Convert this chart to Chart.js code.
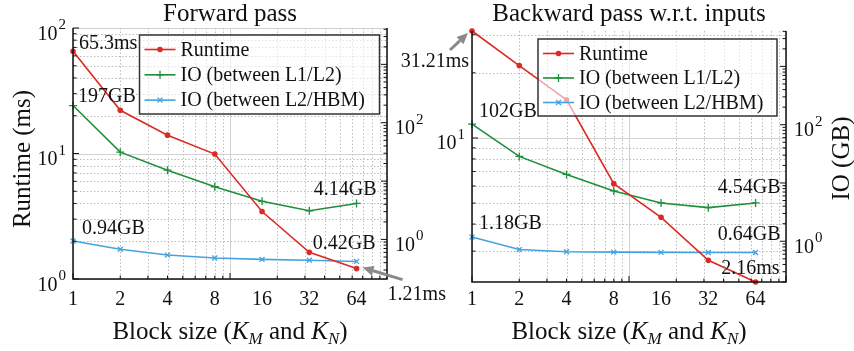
<!DOCTYPE html>
<html lang="en">
<head>
<meta charset="UTF-8">
<title>Block size vs runtime and IO</title>
<script src="https://cdn.jsdelivr.net/npm/chart.js"></script>
<style>
  body { margin: 0; background: #fff; }
  #wrap { position: relative; width: 854px; height: 351px; }
  canvas { position: absolute; top: 0; }
  #fwdChart { left: 0; }
  #bwdChart { left: 400px; }
</style>
</head>
<body>
<div id="wrap">
  <canvas id="fwdChart" width="454" height="351"></canvas>
  <canvas id="bwdChart" width="454" height="351"></canvas>
</div>
<script>
// data
const blockSizes = [1, 2, 4, 8, 16, 32, 64];
const seriesNames = ['Runtime', 'IO (between L1/L2)', 'IO (between L2/HBM)'];

const fwdRuntime = [65.3, 22.1, 14.0, 9.9, 3.45, 1.63, 1.21];      // ms
const fwdIoL1L2 = [197, 31.3, 15.4, 8.0, 4.5, 3.1, 4.14];           // GB
const fwdIoL2Hbm = [0.94, 0.68, 0.54, 0.48, 0.455, 0.44, 0.42];     // GB

const bwdRuntime = [31.21, 21.6, 15.0, 6.15, 4.3, 2.72, 2.16];
const bwdIoL1L2 = [102, 28.6, 14.0, 7.3, 4.54, 3.77, 4.54];
const bwdIoL2Hbm = [1.18, 0.72, 0.66, 0.65, 0.645, 0.64, 0.64];

const SERIF = '"Liberation Serif", "Times New Roman", serif';
const RED = '#dc2a23', GREEN = '#1f8e3d', BLUE = '#44a3df';
Chart.defaults.font.family = SERIF;

function logTicks(min, max) {
    const out = [];
    for (let d = Math.floor(Math.log10(min)); d <= Math.ceil(Math.log10(max)); d++) {
        for (let m = 1; m <= 9; m++) {
            const v = m * Math.pow(10, d);
            if (v >= min * 0.9999 && v <= max * 1.0001) out.push({ v, m, d });
        }
    }
    return out;
}

function drawMarker(ctx, style, x, y, r, color) {
    ctx.fillStyle = color; ctx.strokeStyle = color; ctx.lineWidth = 1.3;
    ctx.beginPath();
    if (style === 'circle') {
        ctx.arc(x, y, r, 0, Math.PI * 2); ctx.fill();
        return;
    }
    if (style === 'cross') {
        ctx.moveTo(x - r, y); ctx.lineTo(x + r, y);
        ctx.moveTo(x, y - r); ctx.lineTo(x, y + r);
    } else {
        const k = r * 0.7071;
        ctx.moveTo(x - k, y - k); ctx.lineTo(x + k, y + k);
        ctx.moveTo(x - k, y + k); ctx.lineTo(x + k, y - k);
    }
    ctx.stroke();
}

// "10" with a raised exponent; y is the tick pixel
function drawPow(ctx, exp, x, y, align) {
    ctx.font = `20px ${SERIF}`;
    const baseW = ctx.measureText('10').width;
    ctx.font = `15px ${SERIF}`;
    const expW = ctx.measureText(String(exp)).width;
    const left = align === 'right' ? x - (baseW + 1 + expW) : x;
    ctx.fillStyle = '#111';
    ctx.textAlign = 'left';
    ctx.textBaseline = 'alphabetic';
    ctx.font = `20px ${SERIF}`;
    ctx.fillText('10', left, y + 11.5);
    ctx.font = `15px ${SERIF}`;
    ctx.fillText(String(exp), left + baseW + 1, y + 1);
}

function drawArrow(ctx, x1, y1, x2, y2) {
    const ang = Math.atan2(y2 - y1, x2 - x1);
    const hl = 11, hw = 5;
    const bx = x2 - hl * Math.cos(ang), by = y2 - hl * Math.sin(ang);
    ctx.strokeStyle = '#8a8a8a'; ctx.fillStyle = '#8a8a8a';
    ctx.lineWidth = 3;
    ctx.beginPath(); ctx.moveTo(x1, y1); ctx.lineTo(bx, by); ctx.stroke();
    ctx.beginPath();
    ctx.moveTo(x2, y2);
    ctx.lineTo(bx + hw * Math.sin(ang), by - hw * Math.cos(ang));
    ctx.lineTo(bx - hw * Math.sin(ang), by + hw * Math.cos(ang));
    ctx.closePath(); ctx.fill();
}

const decorPlugin = {
    id: 'decor',
    beforeDatasetsDraw(chart, args, o) {
        const { ctx, chartArea: a } = chart;
        const sx = chart.scales.x, sy = chart.scales.y;
        ctx.save();
        ctx.lineWidth = 1;
        logTicks(sx.min, sx.max).forEach(t => {
            const p = Math.round(sx.getPixelForValue(t.v)) + 0.5;
            ctx.strokeStyle = t.m === 1 ? '#d2d2d2' : '#bdbdbd';
            ctx.setLineDash(t.m === 1 ? [] : [1.5, 2]);
            ctx.beginPath(); ctx.moveTo(p, a.top); ctx.lineTo(p, a.bottom); ctx.stroke();
        });
        logTicks(sy.min, sy.max).forEach(t => {
            const p = Math.round(sy.getPixelForValue(t.v)) + 0.5;
            ctx.strokeStyle = t.m === 1 ? '#d2d2d2' : '#bdbdbd';
            ctx.setLineDash(t.m === 1 ? [] : [1.5, 2]);
            ctx.beginPath(); ctx.moveTo(a.left, p); ctx.lineTo(a.right, p); ctx.stroke();
        });
        ctx.restore();
    },
    afterDatasetsDraw(chart, args, o) {
        const { ctx, chartArea: a } = chart;
        const sx = chart.scales.x, sy = chart.scales.y, sy2 = chart.scales.y2;
        ctx.save();

        // legend
        const L = o.legend;
        ctx.fillStyle = 'rgba(255,255,255,0.6)';
        ctx.fillRect(L.x, L.y, L.w, L.h);
        ctx.strokeStyle = '#333'; ctx.lineWidth = 1.5;
        ctx.strokeRect(L.x, L.y, L.w, L.h);
        chart.data.datasets.forEach((ds, i) => {
            const cy = L.y + L.first + i * L.row;
            ctx.strokeStyle = ds.borderColor; ctx.lineWidth = 1.6;
            ctx.beginPath(); ctx.moveTo(L.x + 5, cy); ctx.lineTo(L.x + 36, cy); ctx.stroke();
            drawMarker(ctx, ds.pointStyle, L.x + 20.5, cy, ds.pointStyle === 'circle' ? 2.8 : ds.pointRadius, ds.borderColor);
            ctx.fillStyle = '#111';
            ctx.font = `20px ${SERIF}`;
            ctx.textAlign = 'left'; ctx.textBaseline = 'middle';
            ctx.fillText(ds.label, L.x + 41, cy + 1);
        });

        // frame (left, bottom, right)
        ctx.strokeStyle = '#111'; ctx.lineWidth = 1.5; ctx.setLineDash([]);
        ctx.beginPath();
        ctx.moveTo(a.left, a.top); ctx.lineTo(a.left, a.bottom);
        ctx.lineTo(a.right, a.bottom); ctx.lineTo(a.right, a.top);
        ctx.stroke();

        // inward tick marks
        ctx.lineWidth = 1;
        ctx.beginPath();
        logTicks(sy.min, sy.max).forEach(t => {
            const p = sy.getPixelForValue(t.v), len = t.m === 1 ? 6 : 3.5;
            ctx.moveTo(a.left, p); ctx.lineTo(a.left + len, p);
        });
        logTicks(sy2.min, sy2.max).forEach(t => {
            const p = sy2.getPixelForValue(t.v), len = t.m === 1 ? 6 : 3.5;
            ctx.moveTo(a.right, p); ctx.lineTo(a.right - len, p);
        });
        logTicks(sx.min, sx.max).forEach(t => {
            const p = sx.getPixelForValue(t.v), len = t.m === 1 ? 6 : 3.5;
            ctx.moveTo(p, a.bottom); ctx.lineTo(p, a.bottom - len);
        });
        ctx.stroke();

        // tick labels
        logTicks(sy.min, sy.max).filter(t => t.m === 1).forEach(t => {
            drawPow(ctx, t.d, a.left - 7, sy.getPixelForValue(t.v), 'right');
        });
        logTicks(sy2.min, sy2.max).filter(t => t.m === 1 && t.d % 2 === 0).forEach(t => {
            drawPow(ctx, t.d, a.right + 8, sy2.getPixelForValue(t.v), 'left');
        });
        ctx.fillStyle = '#111';
        ctx.font = `20px ${SERIF}`;
        ctx.textAlign = 'center'; ctx.textBaseline = 'middle';
        blockSizes.forEach(v => ctx.fillText(String(v), sx.getPixelForValue(v), o.xLabelY));

        // x axis title with italic K and subscripts
        const segs = [
            { t: 'Block size (', f: `25px ${SERIF}`, dy: 0 },
            { t: 'K', f: `italic 25px ${SERIF}`, dy: 0 },
            { t: 'M', f: `italic 17px ${SERIF}`, dy: 5 },
            { t: ' and ', f: `25px ${SERIF}`, dy: 0 },
            { t: 'K', f: `italic 25px ${SERIF}`, dy: 0 },
            { t: 'N', f: `italic 17px ${SERIF}`, dy: 5 },
            { t: ')', f: `25px ${SERIF}`, dy: 0 }
        ];
        let total = 0;
        segs.forEach(s => { ctx.font = s.f; s.w = ctx.measureText(s.t).width; total += s.w; });
        let cx = (a.left + a.right) / 2 - total / 2;
        ctx.textAlign = 'left'; ctx.textBaseline = 'alphabetic';
        segs.forEach(s => { ctx.font = s.f; ctx.fillText(s.t, cx, o.xTitleY + s.dy); cx += s.w; });

        // chart title
        ctx.font = `25px ${SERIF}`;
        ctx.textAlign = 'center';
        ctx.fillText(o.title, (a.left + a.right) / 2, o.titleY);

        // y axis title
        if (o.yTitle) {
            ctx.save();
            ctx.translate(o.yTitle.x, o.yTitle.y);
            ctx.rotate(-Math.PI / 2);
            ctx.font = `25px ${SERIF}`;
            ctx.textAlign = 'center'; ctx.textBaseline = 'alphabetic';
            ctx.fillText(o.yTitle.text, 0, 0);
            ctx.restore();
        }

        // value notes
        ctx.font = `20px ${SERIF}`;
        ctx.textBaseline = 'alphabetic';
        o.notes.forEach(n => {
            const pt = chart.getDatasetMeta(n.ds).data[n.i];
            if (n.arrow) drawArrow(ctx, pt.x + n.arrow[0], pt.y + n.arrow[1], pt.x + n.arrow[2], pt.y + n.arrow[3]);
            ctx.fillStyle = '#111';
            ctx.textAlign = n.align;
            ctx.fillText(n.text, pt.x + n.dx, pt.y + n.dy);
        });

        ctx.restore();
    }
};

function lineSet(label, ys, axis, color, style, radius) {
    return {
        label, yAxisID: axis,
        data: ys.map((v, i) => ({ x: blockSizes[i], y: v })),
        borderColor: color, backgroundColor: color,
        pointBackgroundColor: color, pointBorderColor: color,
        pointStyle: style, pointRadius: radius,
        pointBorderWidth: style === 'circle' ? 0 : 1.3,
        borderWidth: 1.6, tension: 0, clip: false
    };
}

function makeChart(id, rt, io1, io2, look) {
    return new Chart(document.getElementById(id).getContext('2d'), {
        type: 'line',
        data: {
            datasets: [
                lineSet(seriesNames[0], rt, 'y', RED, 'circle', 2.8),
                lineSet(seriesNames[1], io1, 'y2', GREEN, 'cross', 4),
                lineSet(seriesNames[2], io2, 'y2', BLUE, 'crossRot', 3.5)
            ]
        },
        options: {
            responsive: false,
            animation: false,
            events: [],
            devicePixelRatio: 1,
            layout: { padding: { top: look.top, left: 0, right: 0, bottom: 0 } },
            scales: {
                x: {
                    type: 'logarithmic', min: 1, max: 100,
                    grid: { display: false }, border: { display: false }, ticks: { display: false },
                    afterFit: s => { s.height = look.bottomH; }
                },
                y: {
                    type: 'logarithmic', position: 'left', min: look.yMin, max: look.yMax,
                    grid: { display: false }, border: { display: false }, ticks: { display: false },
                    afterFit: s => { s.width = look.leftW; }
                },
                y2: {
                    type: 'logarithmic', position: 'right', min: look.y2Min, max: look.y2Max,
                    grid: { display: false }, border: { display: false }, ticks: { display: false },
                    afterFit: s => { s.width = look.rightW; }
                }
            },
            plugins: {
                legend: { display: false },
                tooltip: { enabled: false },
                decor: look.decor
            }
        },
        plugins: [decorPlugin]
    });
}

makeChart('fwdChart', fwdRuntime, fwdIoL1L2, fwdIoL2Hbm, {
    top: 28, bottomH: 72, leftW: 73, rightW: 67,
    yMin: 1, yMax: 100, y2Min: 0.21, y2Max: 4200,
    decor: {
        title: 'Forward pass', titleY: 21, xLabelY: 300, xTitleY: 339,
        yTitle: { text: 'Runtime (ms)', x: 30, y: 159 },
        legend: { x: 139.5, y: 35, w: 240, h: 79, first: 14.5, row: 25.3 },
        notes: [
            { ds: 0, i: 0, text: fwdRuntime[0] + 'ms', dx: 6, dy: -2, align: 'left' },
            { ds: 1, i: 0, text: fwdIoL1L2[0] + 'GB', dx: 5, dy: -4, align: 'left' },
            { ds: 2, i: 0, text: fwdIoL2Hbm[0] + 'GB', dx: 9, dy: -7, align: 'left' },
            { ds: 1, i: 6, text: fwdIoL1L2[6] + 'GB', dx: 20, dy: -8, align: 'right' },
            { ds: 2, i: 6, text: fwdIoL2Hbm[6] + 'GB', dx: 19, dy: -12, align: 'right' },
            { ds: 0, i: 6, text: fwdRuntime[6] + 'ms', dx: 31, dy: 31, align: 'left', arrow: [46, 11, 6, -1] }
        ]
    }
});

makeChart('bwdChart', bwdRuntime, bwdIoL1L2, bwdIoL2Hbm, {
    top: 31, bottomH: 69, leftW: 72, rightW: 68,
    yMin: 2.16, yMax: 31.21, y2Min: 0.2, y2Max: 4050,
    decor: {
        title: 'Backward pass w.r.t. inputs', titleY: 21, xLabelY: 300, xTitleY: 339,
        yTitle: { text: 'IO (GB)', x: 448.5, y: 158.5 },
        legend: { x: 138, y: 39, w: 239, h: 77, first: 14.5, row: 24.5 },
        notes: [
            { ds: 0, i: 0, text: bwdRuntime[0] + 'ms', dx: -3, dy: 36, align: 'right', arrow: [-22, 19, -4, 2] },
            { ds: 1, i: 0, text: bwdIoL1L2[0] + 'GB', dx: 7, dy: -7, align: 'left' },
            { ds: 2, i: 0, text: bwdIoL2Hbm[0] + 'GB', dx: 7, dy: -8, align: 'left' },
            { ds: 1, i: 6, text: bwdIoL1L2[6] + 'GB', dx: 25, dy: -10, align: 'right' },
            { ds: 2, i: 6, text: bwdIoL2Hbm[6] + 'GB', dx: 25, dy: -13, align: 'right' },
            { ds: 0, i: 6, text: bwdRuntime[6] + 'ms', dx: 24, dy: -8, align: 'right' }
        ]
    }
});
</script>
</body>
</html>
